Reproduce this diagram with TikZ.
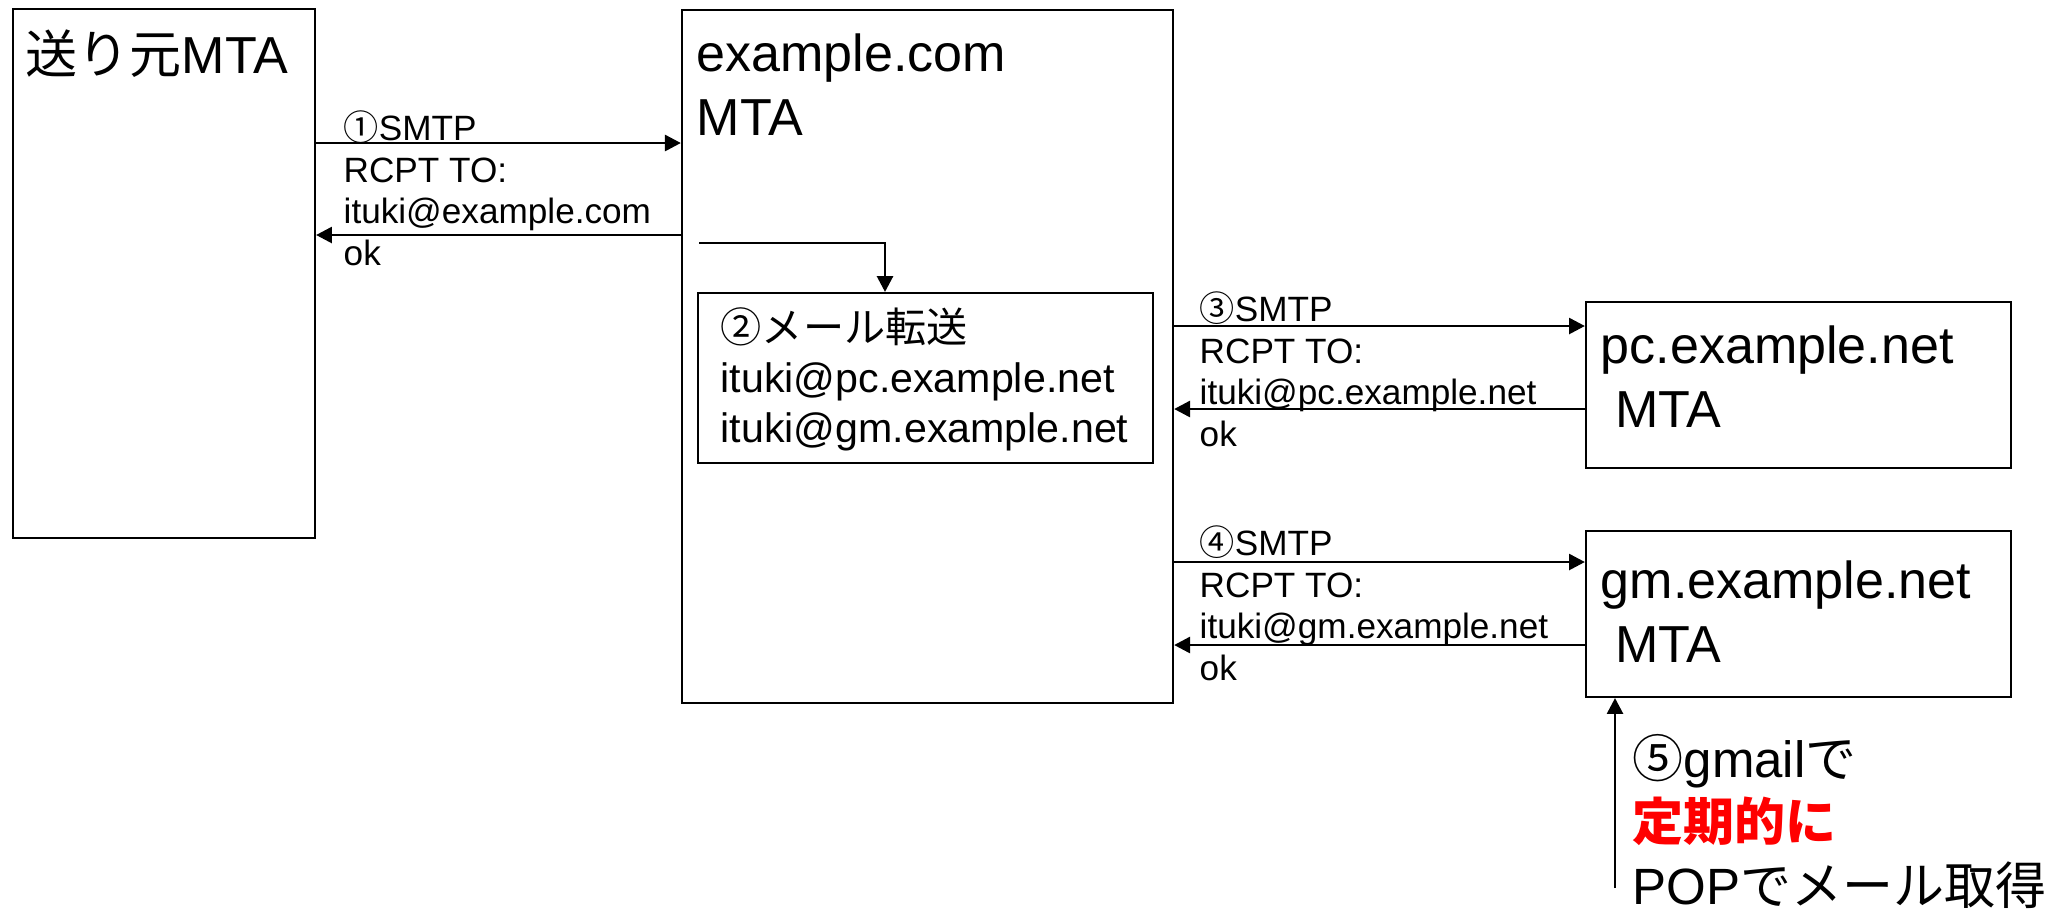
\documentclass[tikz,border=0pt]{standalone}
\usepackage{fontspec}
\setmainfont{Liberation Sans}
\newfontfamily\jp{Noto Sans CJK JP}
\usetikzlibrary{arrows.meta}

\tikzset{
  mtabox/.style={draw, line width=0.6pt, inner sep=0pt},
  msg/.style={-{Triangle[length=4.5pt,width=4.6pt]}, line width=0.6pt},
  bigtext/.style={font=\fontsize{14.8}{18.2}\selectfont, align=left, anchor=base west, inner sep=0pt},
  midtext/.style={font=\fontsize{11.7}{14.2}\selectfont, align=left, anchor=base west, inner sep=0pt},
  smalltext/.style={font=\fontsize{10}{11.8}\selectfont, align=left, anchor=base west, inner sep=0pt}
}

\begin{document}
\begin{tikzpicture}[x=0.01cm, y=-0.01cm]
    \useasboundingbox (0,0) rectangle (2058,911);
    \node[mtabox, minimum width=3.02cm, minimum height=5.29cm] (snd) at (164,273.5) {};
    \node[mtabox, minimum width=4.91cm, minimum height=6.93cm] (com) at (927.5,356.5) {};
    \node[mtabox, minimum width=4.55cm, minimum height=1.70cm] (fwd) at (925.5,378) {};
    \node[mtabox, minimum width=4.25cm, minimum height=1.66cm] (pc) at (1798.5,385) {};
    \node[mtabox, minimum width=4.25cm, minimum height=1.66cm] (gm) at (1798.5,614) {};

    % base of a multi-line label is its last line
    \node[bigtext] (sndlabel) at (25,73) {{\jp 送り元}MTA};
    \node[bigtext] (comlabel) at (696,135) {example.com\\MTA};
    \node[midtext] (fwdlabel) at (720,442) {{\jp ②メール転送}\\ituki@pc.example.net\\ituki@gm.example.net};
    \node[bigtext] (pclabel) at (1600,427) {pc.example.net\\\ MTA};
    \node[bigtext] (gmlabel) at (1600,662) {gm.example.net\\\ MTA};

    \coordinate (a1) at (0,143);
    \coordinate (b1) at (0,235);
    \coordinate (a3) at (0,326);
    \coordinate (b3) at (0,409);
    \coordinate (a4) at (0,562);
    \coordinate (b4) at (0,645);
    \draw[msg] (snd.east |- a1) -- (com.west |- a1);
    \draw[msg] (com.west |- b1) -- (snd.east |- b1);
    \draw[msg] (com.east |- a3) -- (pc.west |- a3);
    \draw[msg] (pc.west |- b3) -- (com.east |- b3);
    \draw[msg] (com.east |- a4) -- (gm.west |- a4);
    \draw[msg] (gm.west |- b4) -- (com.east |- b4);

    \node[smalltext] (smtp1) at (343,265) {{\jp ①}SMTP\\RCPT TO:\\ituki@example.com\\ok};
    \node[smalltext] (smtp3) at (1199,446) {{\jp ③}SMTP\\RCPT TO:\\ituki@pc.example.net\\ok};
    \node[smalltext] (smtp4) at (1199,680) {{\jp ④}SMTP\\RCPT TO:\\ituki@gm.example.net\\ok};

    \coordinate (fw) at (699,243);
    \coordinate (fwx) at (885,0);
    \draw[msg] (fw) -| (fwd.north -| fwx);

    \coordinate (pop) at (1615,888);
    \draw[msg] (pop) -- (pop |- gm.south);
    \node[bigtext, font=\fontsize{14.5}{18}\selectfont] (poplabel) at (1632,904)
        {{\jp ⑤}gmail{\jp で}\\{\jp\bfseries\color{red}定期的に}\\POP{\jp でメール取得}};
\end{tikzpicture}
\end{document}
